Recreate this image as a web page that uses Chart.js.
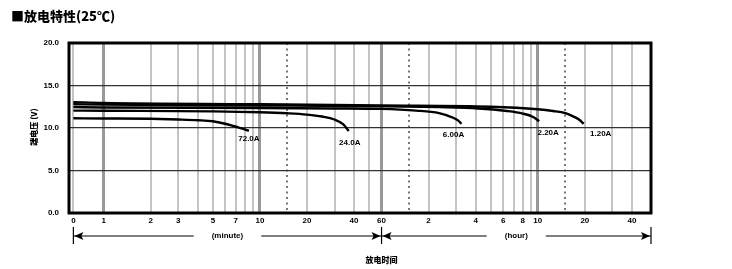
<!DOCTYPE html>
<html>
<head>
<meta charset="utf-8">
<script src="https://cdn.jsdelivr.net/npm/chart.js@4.4.1/dist/chart.umd.min.js"></script>
<style>
html,body{margin:0;padding:0;background:#fff;}
canvas{display:block;}
</style>
</head>
<body>
<canvas id="c" width="732" height="269"></canvas>
<script>
// ---- data (time in minutes, voltage in V) ----
const seriesNames = ["72.0A", "24.0A", "6.00A", "2.20A", "1.20A"];
const times72 = [0, 1, 2, 3, 4, 5, 6, 7, 8, 8.5];
const volts72 = [11.14, 11.12, 11.08, 11.0, 10.92, 10.8, 10.5, 10.15, 9.85, 9.65];
const times24 = [0, 1, 5, 10, 15, 20, 25, 30, 34, 37];
const volts24 = [12.05, 12.03, 11.95, 11.85, 11.73, 11.58, 11.35, 11.0, 10.45, 9.65];
const times6 = [0, 1, 10, 30, 60, 100, 140, 170, 185, 195];
const volts6 = [12.45, 12.42, 12.35, 12.3, 12.25, 12.05, 11.75, 11.25, 10.9, 10.5];
const times2_2 = [0, 1, 10, 60, 140, 250, 380, 480, 560, 612];
const volts2_2 = [12.8, 12.75, 12.65, 12.55, 12.45, 12.3, 12.0, 11.7, 11.3, 10.8];
const times1_2 = [0, 1, 10, 60, 300, 600, 750, 900, 1000, 1100, 1180];
const volts1_2 = [13.05, 12.95, 12.8, 12.65, 12.5, 12.2, 12.0, 11.75, 11.4, 11.0, 10.5];

// x axis (minutes, logarithmic; "0" sits at the axis minimum)
const xMin = 0.64, xMax = 3180;
const gridValues = [1,2,3,4,5,6,7,8,9,10,15,20,30,40,50,60,90,120,180,240,300,360,420,480,540,600,900,1200,1800,2400];
const labelValues = [0, 1, 2, 3, 5, 7, 10, 20, 40, 60, 120, 240, 360, 480, 600, 1200, 2400];
const labelTexts  = ["0","1","2","3","5","7","10","20","40","60","2","4","6","8","10","20","40"];
const strongGrid = [1, 10, 60, 600];
const dottedGrid = [15, 90, 900];
const yTicks = [0, 5, 10, 15, 20];

// ---- styles ----
const labelOffsets = [[0, 8], [1, 12], [-8, 11], [9, 12], [17, 10]];
const BOLD8 = 'bold 8px "Liberation Sans", Arial, sans-serif';

const allTimes = [times72, times24, times6, times2_2, times1_2];
const allVolts = [volts72, volts24, volts6, volts2_2, volts1_2];

const datasets = seriesNames.map((n, i) => ({
  label: n,
  data: allTimes[i].map((t, j) => ({x: t === 0 ? xMin : t, y: allVolts[i][j]})),
  borderColor: '#000',
  borderWidth: 2.4,
  pointRadius: 0,
  cubicInterpolationMode: 'monotone',
  fill: false
}));

function tickVal(ctx){ return ctx.tick ? ctx.tick.value : null; }
function near(a, b){ return Math.abs(a - b) < 1e-6 * Math.max(1, b); }

const decor = {
  id: 'decor',
  afterDraw(chart) {
    const c = chart.ctx, a = chart.chartArea, xs = chart.scales.x;
    c.save();
    // frame
    c.strokeStyle = '#000'; c.lineWidth = 3;
    c.strokeRect(a.left, a.top, a.right - a.left, a.bottom - a.top);
    // curve labels
    c.fillStyle = '#000'; c.font = BOLD8; c.textAlign = 'center'; c.textBaseline = 'middle';
    chart.data.datasets.forEach((ds, i) => {
      const pts = chart.getDatasetMeta(i).data;
      const p = pts[pts.length - 1];
      c.fillText(ds.label, p.x + labelOffsets[i][0], p.y + labelOffsets[i][1]);
    });
    // arrows
    const x0 = xs.getPixelForValue(xMin), x1 = xs.getPixelForValue(60), x2 = a.right;
    const ay = 236;
    c.lineWidth = 1.2; c.strokeStyle = '#000';
    [x0, x1, x2].forEach(x => { c.beginPath(); c.moveTo(x, 227); c.lineTo(x, 244); c.stroke(); });
    function arrow(xa, xb, text) {
      const mid = (xa + xb) / 2;
      c.font = BOLD8;
      const w = c.measureText(text).width;
      c.beginPath(); c.moveTo(xa, ay); c.lineTo(mid - w / 2 - 18, ay);
      c.moveTo(mid + w / 2 + 18, ay); c.lineTo(xb, ay); c.stroke();
      c.beginPath(); c.moveTo(xa + 1, ay); c.lineTo(xa + 10, ay - 4); c.lineTo(xa + 8, ay); c.lineTo(xa + 10, ay + 4); c.closePath(); c.fill();
      c.beginPath(); c.moveTo(xb - 1, ay); c.lineTo(xb - 10, ay - 4); c.lineTo(xb - 8, ay); c.lineTo(xb - 10, ay + 4); c.closePath(); c.fill();
      c.fillText(text, mid, ay);
    }
    arrow(x0, x1, '(minute)');
    arrow(x1, x2, '(hour)');
    // axis titles
    c.font = '900 8px "Noto Sans CJK SC", sans-serif';
    c.fillText('放电时间', x1, 260);
    c.save();
    c.translate(34, 127); c.rotate(-Math.PI / 2);
    c.fillText('端电压 (V)', 0, 0);
    c.restore();
    // chart title
    c.textAlign = 'left';
    c.font = '900 13px "Noto Sans CJK SC", sans-serif';
    c.fillText('■放电特性(25℃)', 11, 16);
    c.restore();
  }
};

new Chart(document.getElementById('c'), {
  type: 'line',
  data: { datasets },
  plugins: [decor],
  options: {
    responsive: false,
    animation: false,
    devicePixelRatio: 1,
    layout: { padding: { top: 43, right: 81, left: 0, bottom: 0 } },
    plugins: { legend: { display: false }, tooltip: { enabled: false } },
    scales: {
      x: {
        type: 'logarithmic',
        min: xMin, max: xMax,
        afterBuildTicks(s) {
          const vals = [xMin].concat(gridValues);
          s.ticks = vals.map(v => ({ value: v }));
        },
        afterFit(s) { s.height = 56; },
        ticks: {
          autoSkip: false, maxRotation: 0, padding: 3,
          color: '#000', font: { family: '"Liberation Sans", Arial, sans-serif', size: 8, weight: 'bold' },
          callback(v) {
            const val = (v === xMin || near(v, xMin)) ? 0 : v;
            const k = labelValues.findIndex(l => near(l, val));
            return k >= 0 ? labelTexts[k] : '';
          }
        },
        grid: {
          drawTicks: false,
          color(ctx) {
            const v = tickVal(ctx);
            if (v === null) return '#bbb';
            if (strongGrid.some(s => near(s, v))) return '#999';
            if (dottedGrid.some(s => near(s, v))) return '#777';
            return '#c4c4c4';
          },
          lineWidth(ctx) {
            const v = tickVal(ctx);
            if (v === null) return 1;
            if (strongGrid.some(s => near(s, v))) return 3;
            return 2;
          },
          borderDash(ctx) {
            const v = tickVal(ctx);
            return (v !== null && dottedGrid.some(s => near(s, v))) ? [2, 3.5] : [];
          }
        },
        border: {
          display: false,
          dash(ctx) {
            const v = tickVal(ctx);
            return (v !== null && dottedGrid.some(s => near(s, v))) ? [2, 3.5] : [];
          }
        }
      },
      y: {
        min: 0, max: 20,
        afterBuildTicks(s) { s.ticks = yTicks.map(v => ({ value: v })); },
        afterFit(s) { s.width = 69; },
        ticks: {
          padding: 10, color: '#000',
          font: { family: '"Liberation Sans", Arial, sans-serif', size: 8, weight: 'bold' },
          callback(v) { return Number(v).toFixed(1); }
        },
        grid: { drawTicks: false, color: '#333', lineWidth: 1.3 },
        border: { display: false }
      }
    }
  }
});
</script>
</body>
</html>
